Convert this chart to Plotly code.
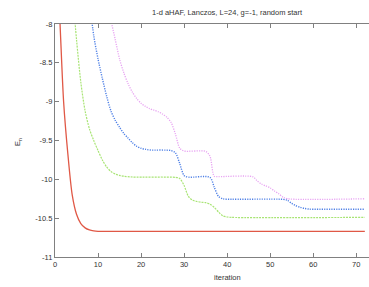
import plotly.graph_objects as go

# ---- data ----
red_x = [0, 1, 2, 3, 4, 5, 6, 7, 8, 9, 10, 12, 72]
red_y = [-6.9, -7.8, -9.0, -9.68, -10.2, -10.45, -10.57, -10.625, -10.652, -10.664, -10.669, -10.671, -10.671]

green_x = [4, 5, 6, 7, 8, 9, 10, 11, 12, 13, 14, 15, 16, 18, 28, 29, 30, 31, 32, 33, 34, 35, 36, 37, 38, 39, 40, 41, 72]
green_y = [-7.55, -8.2, -8.75, -9.12, -9.35, -9.5, -9.63, -9.75, -9.84, -9.9, -9.93, -9.95, -9.96, -9.97, -9.975,
           -9.99, -10.08, -10.22, -10.27, -10.285, -10.295, -10.3, -10.32, -10.36, -10.42, -10.47, -10.485, -10.49, -10.49]

blue_x = [8, 9, 10, 11, 12, 13, 14, 15, 16, 17, 18, 19, 20, 21, 22, 27, 28, 29, 30, 31, 36, 37, 38, 39, 40, 53,
          54, 55, 56, 57, 58, 59, 60, 72]
blue_y = [-7.7, -8.15, -8.45, -8.7, -8.93, -9.12, -9.24, -9.33, -9.41, -9.47, -9.53, -9.575, -9.6, -9.613, -9.622,
          -9.63, -9.66, -9.8, -9.95, -9.972, -9.975, -10.1, -10.22, -10.25, -10.256, -10.258, -10.27, -10.31,
          -10.34, -10.36, -10.375, -10.383, -10.385, -10.385]

violet_x = [12, 13, 14, 15, 16, 17, 18, 19, 20, 21, 22, 23, 24, 25, 26, 27, 28, 29, 30, 35, 36, 37, 38, 46, 47,
            48, 49, 50, 51, 52, 53, 54, 72]
violet_y = [-7.65, -7.95, -8.2, -8.45, -8.63, -8.77, -8.88, -8.96, -9.02, -9.06, -9.09, -9.11, -9.13, -9.16, -9.2,
            -9.27, -9.42, -9.6, -9.635, -9.64, -9.7, -9.96, -9.965, -9.968, -10.02, -10.06, -10.085, -10.11,
            -10.15, -10.185, -10.23, -10.25, -10.25]

x_ticks = [0, 10, 20, 30, 40, 50, 60, 70]
y_ticks = [-8, -8.5, -9, -9.5, -10, -10.5, -11]
y_tick_text = ["-8", "-8.5", "-9", "-9.5", "-10", "-10.5", "-11"]

title_text = "1-d aHAF, Lanczos, L=24, g=-1, random start"
x_label = "iteration"
y_label = "E<sub>n</sub>"

FONT = "Liberation Sans, Arial, sans-serif"
AX = "#808080"
TXT = "#333333"

fig = go.Figure()
series = [
    (red_x, red_y, "#e05846", "solid", 1.3),
    (green_x, green_y, "#a8e474", "2px,1px", 1.2),
    (blue_x, blue_y, "#4f80e6", "1.2px,1.2px", 1.4),
    (violet_x, violet_y, "#e8a4f2", "1.2px,1.2px", 1.3),
]
for xs, ys, col, dash, w in series:
    fig.add_trace(go.Scatter(x=xs, y=ys, mode="lines",
                             line=dict(color=col, dash=dash, width=w, shape="spline", smoothing=0.8),
                             showlegend=False, hoverinfo="skip"))

L, T, R, B = 55, 24, 0, 30
PW, PH = 369 - L - R, 287 - T - B

fig.update_layout(
    width=369, height=287,
    margin=dict(l=L, r=R, t=T, b=B),
    paper_bgcolor="white", plot_bgcolor="white",
    font=dict(family=FONT, size=7.5, color=TXT),
    showlegend=False,
)
fig.update_xaxes(range=[0, 72.97], tickvals=x_ticks, ticks="inside", ticklen=4, tickcolor=AX,
                 showline=True, linecolor=AX, linewidth=1.3, mirror="allticks", showgrid=False,
                 zeroline=False, tickfont=dict(size=7.5, color=TXT))
fig.update_yaxes(range=[-11, -8], tickvals=y_ticks, ticktext=y_tick_text, ticks="inside", ticklen=4,
                 tickcolor=AX, showline=True, linecolor=AX, linewidth=1.3, mirror=False, showgrid=False,
                 zeroline=False, tickfont=dict(size=7.5, color=TXT))

fig.add_annotation(text=title_text, x=(227 - L) / PW, y=1 + (T - 13) / PH, xref="paper", yref="paper",
                   showarrow=False, xanchor="center", yanchor="middle", font=dict(size=7.5, color=TXT))
fig.add_annotation(text=x_label, x=(227 - L) / PW, y=-(277 - (287 - B)) / PH, xref="paper", yref="paper",
                   showarrow=False, xanchor="center", yanchor="middle", font=dict(size=7.5, color=TXT))
fig.add_annotation(text=y_label, x=-(L - 18) / PW, y=((287 - B) - 142) / PH, xref="paper", yref="paper",
                   showarrow=False, textangle=-90, xanchor="center", yanchor="middle",
                   font=dict(size=7.5, color=TXT))

fig.write_html("out.html",
               config={"displayModeBar": False},
               post_script="document.body.style.margin='0';document.body.style.padding='0';"
                           "document.documentElement.style.overflow='hidden';")
